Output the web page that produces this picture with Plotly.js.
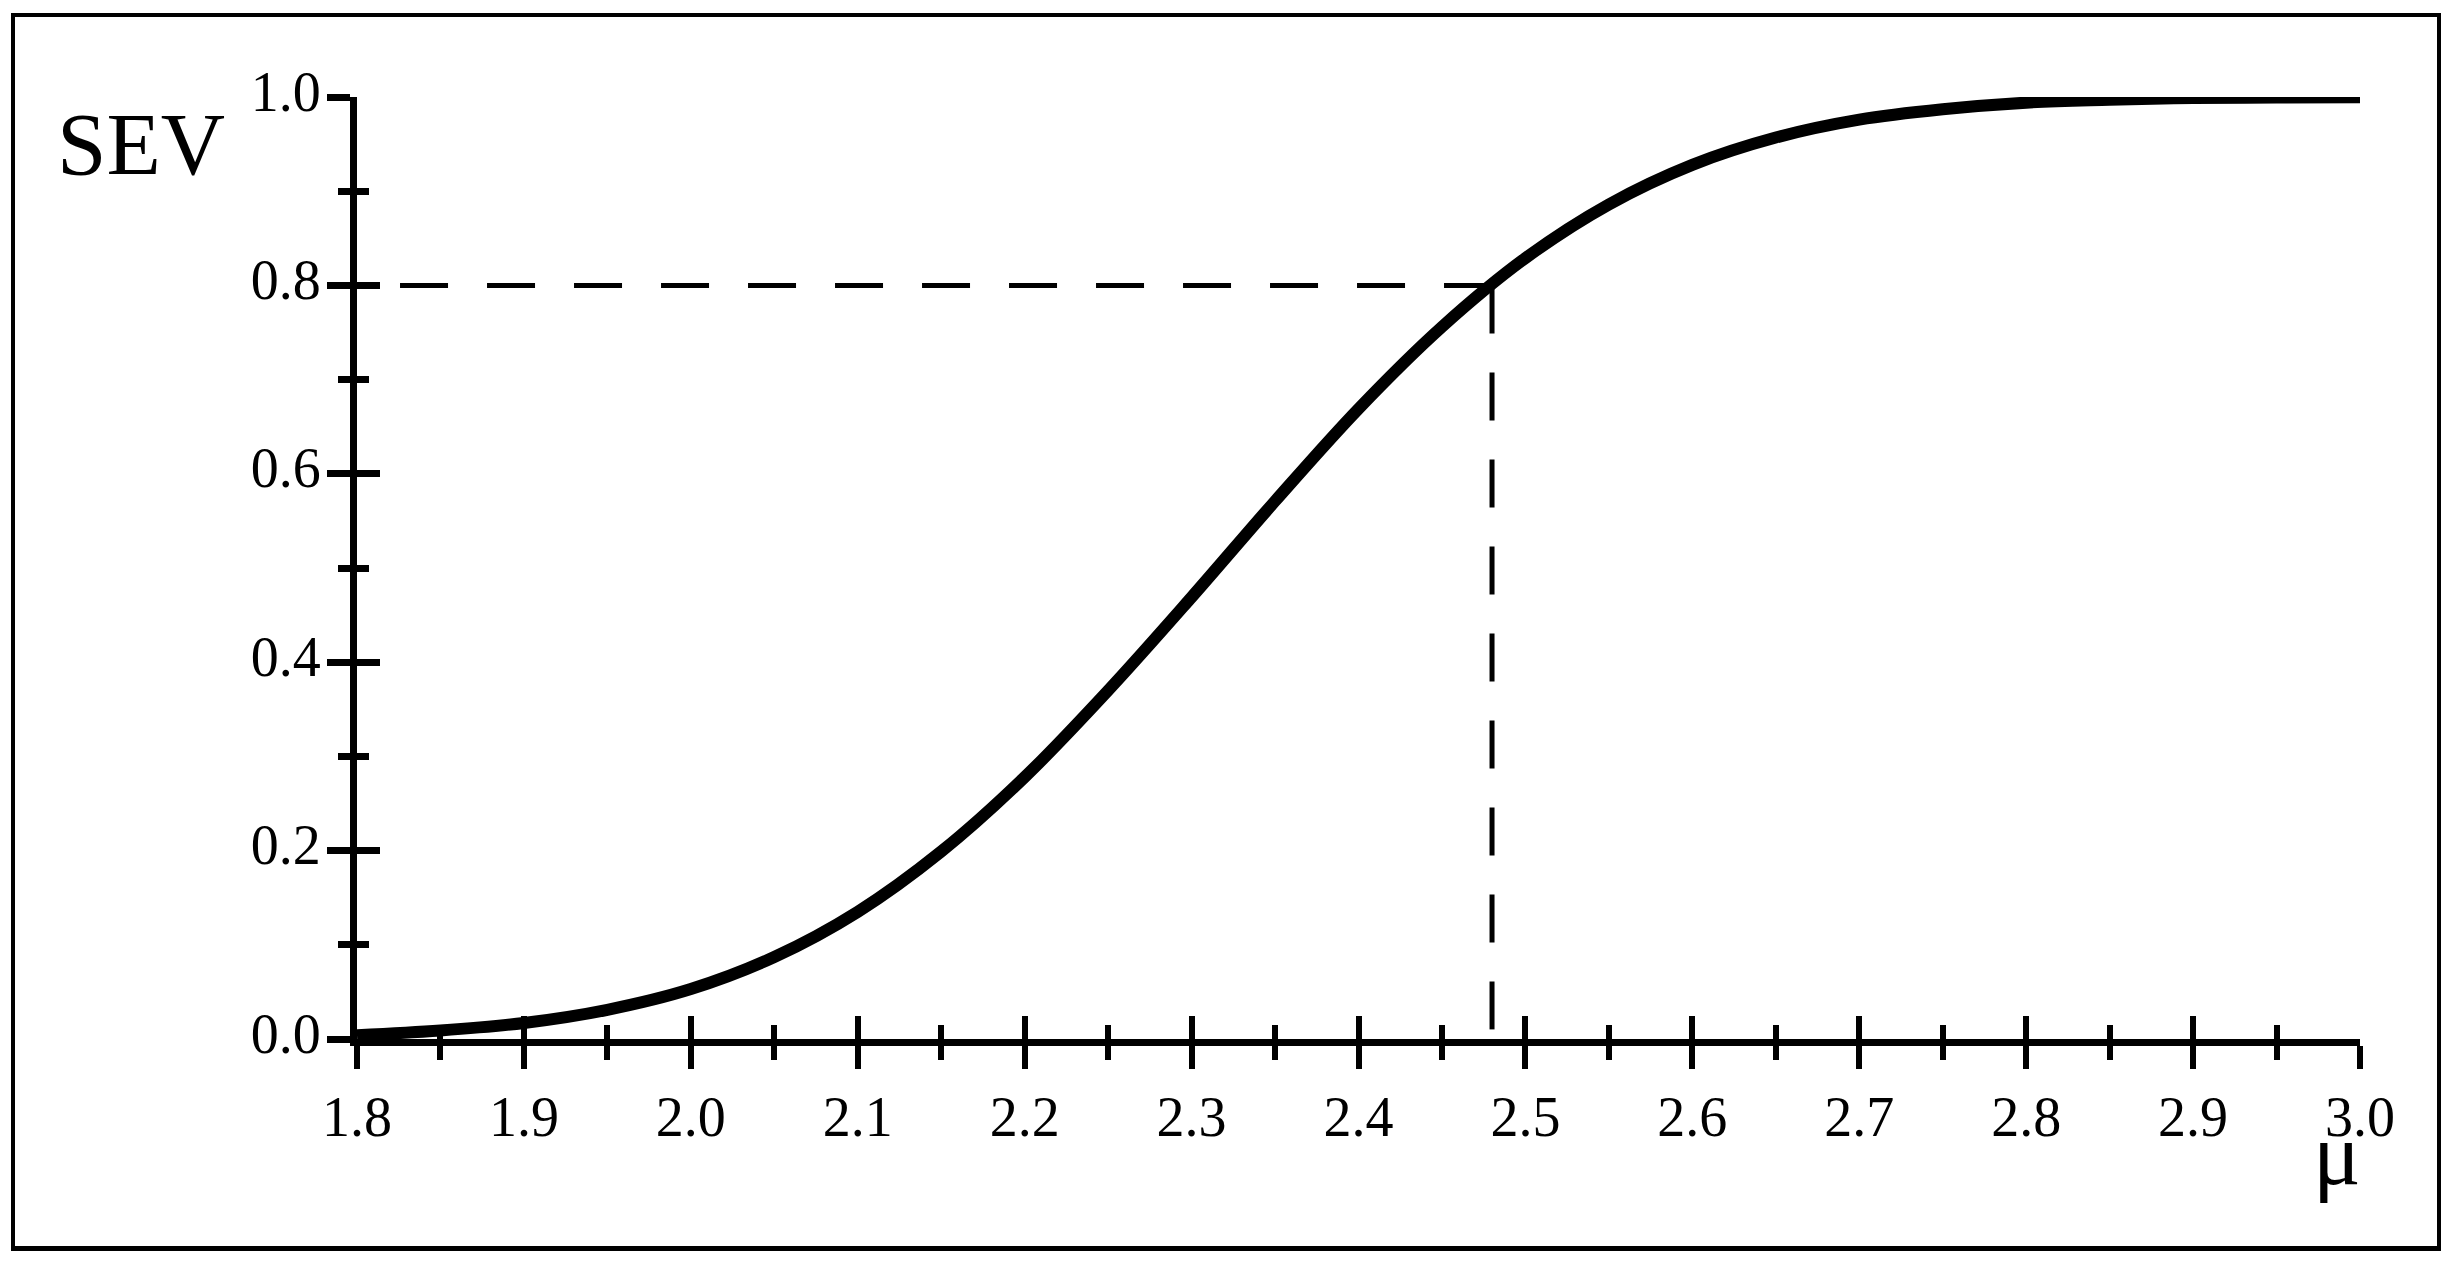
<!DOCTYPE html>
<html><head><meta charset="utf-8">
<script src="https://cdn.plot.ly/plotly-3.0.1.min.js"></script>
<style>
html,body{margin:0;padding:0;background:#fff;width:2455px;height:1266px;overflow:hidden}
#frame{position:absolute;left:11px;top:13px;width:2430px;height:1238px;border:4px solid #000;border-bottom-width:5px;box-sizing:border-box}
#chart{position:absolute;left:0;top:0;width:2455px;height:1266px}
</style></head><body>
<div id="frame"></div><div id="chart"></div>
<script>
// μ values and read-off severity values
const mu  = [1.80, 1.85, 1.90, 1.95, 2.00, 2.05, 2.10, 2.15, 2.20, 2.25, 2.30, 2.35, 2.40,
             2.45, 2.50, 2.55, 2.60, 2.65, 2.70, 2.75, 2.80, 2.85, 2.90, 2.95, 3.00];
const sev = [0.004, 0.009, 0.017, 0.031, 0.053, 0.087, 0.135, 0.199, 0.278, 0.370, 0.469, 0.571, 0.669,
             0.756, 0.829, 0.886, 0.928, 0.957, 0.976, 0.987, 0.994, 0.997, 0.999, 0.9994, 0.9998];
// guide lines: from the point (2.48, 0.8) to the y axis and down to the x axis
const guideX = [2.48, 1.8, null, 2.48, 2.48];
const guideY = [0.8, 0.8, null, 0.8, 0.0];
const xRange = [1.8, 3.0];
const yRange = [0, 1];
const yLabel = 'SEV';
const xLabel = 'μ';

const font = 'Liberation Serif, Times New Roman, serif';
const baseX = {
  range: xRange, dtick: 0.1, tick0: 1.8, tickformat: '.1f',
  showgrid: false, zeroline: false, ticklen: 23, tickwidth: 6, tickcolor: '#000',
  minor: {dtick: 0.05, tick0: 1.8, ticklen: 14, tickwidth: 6, tickcolor: '#000'}
};
const baseY = {
  range: yRange, dtick: 0.2, tick0: 0, tickformat: '.1f',
  showgrid: false, zeroline: false, ticklen: 23, tickwidth: 7, tickcolor: '#000',
  minor: {dtick: 0.1, tick0: 0, ticklen: 12, tickwidth: 7, tickcolor: '#000'}
};

const traces = [
  {x: guideX, y: guideY, xaxis: 'x', yaxis: 'y', mode: 'lines', connectgaps: false,
   line: {color: '#000', width: 5, dash: '48px,39px'}, hoverinfo: 'skip', showlegend: false},
  {x: mu, y: sev, xaxis: 'x2', yaxis: 'y2', mode: 'lines', cliponaxis: false,
   line: {color: '#000', width: 12, shape: 'spline'}, showlegend: false}
];

const layout = {
  width: 2455, height: 1266,
  margin: {l: 357, r: 95, t: 97, b: 227},
  paper_bgcolor: 'rgba(0,0,0,0)', plot_bgcolor: 'rgba(0,0,0,0)',
  font: {family: font, color: '#000', size: 56},
  xaxis: Object.assign({}, baseX, {
    anchor: 'y', showline: true, linewidth: 7, linecolor: '#000', ticks: 'outside',
    minor: Object.assign({}, baseX.minor, {ticks: 'outside'}),
    tickfont: {family: font, size: 56, color: '#000'}, ticklabelstandoff: 0
  }),
  yaxis: Object.assign({}, baseY, {
    anchor: 'x', showline: true, linewidth: 7, linecolor: '#000', ticks: 'outside',
    minor: Object.assign({}, baseY.minor, {ticks: 'outside'}),
    tickfont: {family: font, size: 56, color: '#000'}, ticklabelstandoff: -5,
    ticklabelshift: -6
  }),
  xaxis2: Object.assign({}, baseX, {
    overlaying: 'x', anchor: 'y2', showline: false, ticks: 'inside', showticklabels: false,
    minor: Object.assign({}, baseX.minor, {ticks: 'inside'})
  }),
  yaxis2: Object.assign({}, baseY, {
    overlaying: 'y', anchor: 'x2', showline: false, ticks: 'inside', showticklabels: false,
    minor: Object.assign({}, baseY.minor, {ticks: 'inside'})
  }),
  annotations: [
    {text: yLabel, xref: 'paper', yref: 'paper', x: -0.1078, y: 0.95,
     xanchor: 'center', yanchor: 'middle', showarrow: false,
     font: {family: font, size: 89, color: '#000'}},
    {text: xLabel, xref: 'paper', yref: 'paper', x: 0.9885, y: -0.122,
     xanchor: 'center', yanchor: 'middle', showarrow: false,
     font: {family: font, size: 89, color: '#000'}}
  ]
};

Plotly.newPlot('chart', traces, layout, {staticPlot: true, displayModeBar: false});
</script>
</body></html>
